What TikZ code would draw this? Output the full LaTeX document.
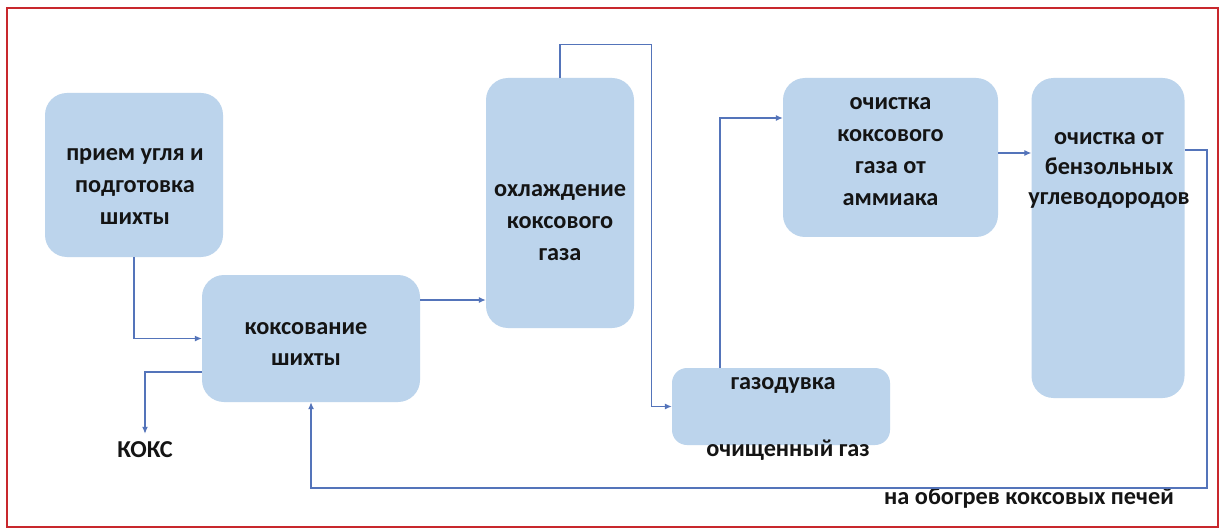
\documentclass[tikz,border=0pt]{standalone}
\usepackage{fontspec}
\setmainfont{Carlito}
\usetikzlibrary{arrows.meta,calc}
\definecolor{boxfill}{RGB}{188,212,236}
\definecolor{linecol}{RGB}{84,116,186}
\definecolor{framecol}{RGB}{200,40,45}
\definecolor{txtcol}{RGB}{20,20,20}
\begin{document}
\begin{tikzpicture}[x=1pt,y=-1pt,
 box/.style={fill=boxfill, draw=none, rounded corners=22pt, inner sep=0pt},
 txt/.style={font=\bfseries\fontsize{24.3}{32}\selectfont, text=txtcol, align=center, inner sep=0pt},
 arr/.style={draw=linecol, line width=1.2pt, -{Latex[length=7pt,width=6pt]}}]
\useasboundingbox (0,0) rectangle (1222,529);
\fill[white] (0,0) rectangle (1222,529);
\draw[framecol, line width=2pt] (7,8) rectangle (1218,527);

% boxes
\node[box, minimum width=178pt, minimum height=164pt] (b1) at (134,175) {};
\node[box, minimum width=218pt, minimum height=127pt] (b2) at (311,338.5) {};
\node[box, minimum width=148pt, minimum height=250pt] (b3) at (560,203) {};
\node[box, minimum width=218pt, minimum height=77pt, rounded corners=15pt] (b4) at (781,406.5) {};
\node[box, minimum width=215pt, minimum height=159pt] (b5) at (890.5,157.5) {};
\node[box, minimum width=153pt, minimum height=320pt] (b6) at (1108,238) {};

% texts
\node[txt] (t1) at ($(b1.center)+(1,11.5)$) {прием угля и\\подготовка\\шихты};
\node[txt] (t2) at ($(b2.center)+(-5,5.5)$) {коксование\\шихты};
\node[txt] (t3) at ($(b3.center)+(0,20)$) {охлаждение\\коксового\\газа};
\node[txt] (t5) at ($(b5.center)+(0,-5.5)$) {очистка\\коксового\\газа от\\аммиака};
\node[txt, font=\bfseries\fontsize{24.3}{30}\selectfont] (t6) at ($(b6.center)+(1,-68)$) {очистка от\\бензольных\\углеводородов};
\node[txt] (t4a) at (783,385) {газодувка};
\node[txt] (t4b) at (788,450) {очищенный газ};
\node[txt] (koks) at (145,450) {КОКС};
\node[txt] (heat) at (1029,498) {на обогрев коксовых печей};

% connectors
\draw[arr] (b1.south) |- (b2.west);
\draw[arr] ([yshift=-33.5pt]b2.west) -| ([yshift=8pt]koks.north);
\draw[arr] ([yshift=38.5pt]b2.east) -- ([yshift=38.5pt]b2.east -| b3.west);
\coordinate (c1) at ($(b3.north)+(0,-33)$);
\coordinate (c2) at ($(b4.west)+(-20,0)$);
\draw[arr] (b3.north) -- (c1) -| (c2) -- (b4.west);
\draw[arr] ([xshift=-61pt]b4.north) |- ([yshift=39.5pt]b5.west);
\draw[arr] ([yshift=4.5pt]b5.east) -- ([yshift=4.5pt]b5.east -| b6.west);
\coordinate (r1) at (1207,488);
\draw[arr] ([yshift=88pt]b6.east) -| (r1) -| (b2.south);
\end{tikzpicture}
\end{document}
